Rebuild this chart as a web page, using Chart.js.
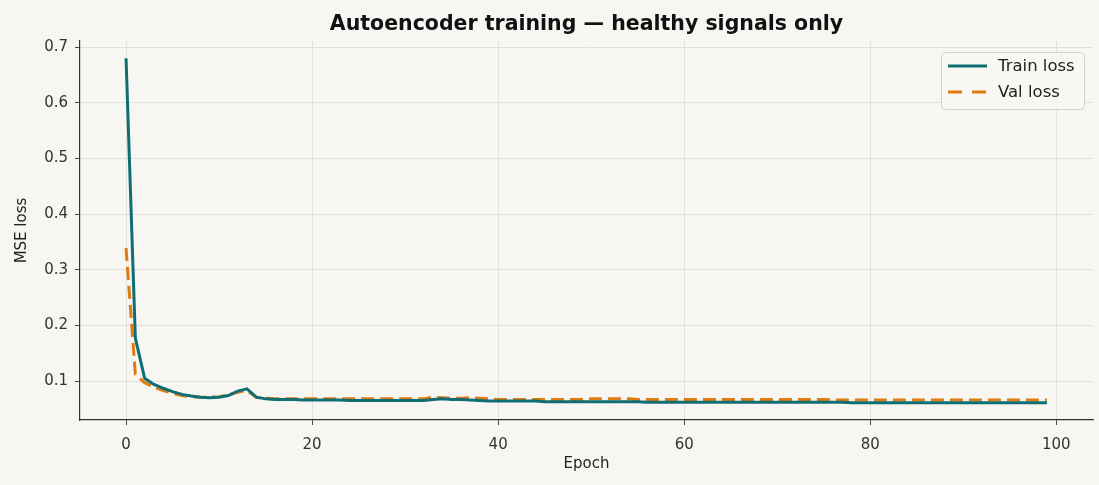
<!DOCTYPE html>
<html>
<head>
<meta charset="utf-8">
<script src="https://cdn.jsdelivr.net/npm/chart.js@4.4.0/dist/chart.umd.min.js"></script>
<style>
  html, body { margin: 0; padding: 0; background: #f7f6f2; }
  #wrap { width: 1099px; height: 485px; }
</style>
</head>
<body>
<div id="wrap"><canvas id="c" width="1099" height="485"></canvas></div>
<script>
const titleText = "Autoencoder training — healthy signals only";
const xLabel = "Epoch";
const yLabel = "MSE loss";
const seriesNames = ["Train loss", "Val loss"];
const xTicks = [0, 20, 40, 60, 80, 100];
const yTicks = [0.1, 0.2, 0.3, 0.4, 0.5, 0.6, 0.7];

const epochs = Array.from({length: 100}, (_, i) => i);

const trainLoss = [
  0.680, 0.177, 0.105, 0.094, 0.087, 0.081, 0.076, 0.073, 0.071, 0.070,
  0.071, 0.074, 0.082, 0.086, 0.071, 0.068, 0.067, 0.067, 0.067, 0.066,
  0.066, 0.066, 0.066, 0.066, 0.065, 0.065, 0.065, 0.065, 0.065, 0.065,
  0.065, 0.065, 0.065, 0.067, 0.068, 0.067, 0.067, 0.066, 0.065, 0.064,
  0.064, 0.064, 0.064, 0.064, 0.064, 0.063, 0.063, 0.063, 0.063, 0.063,
  0.063, 0.063, 0.063, 0.063, 0.063, 0.063, 0.062, 0.062, 0.062, 0.062,
  0.062, 0.062, 0.062, 0.062, 0.062, 0.062, 0.062, 0.062, 0.062, 0.062,
  0.062, 0.062, 0.062, 0.062, 0.062, 0.062, 0.062, 0.062, 0.061, 0.061,
  0.061, 0.061, 0.061, 0.061, 0.061, 0.061, 0.061, 0.061, 0.061, 0.061,
  0.061, 0.061, 0.061, 0.061, 0.061, 0.061, 0.061, 0.061, 0.061, 0.061
];

const valLoss = [
  0.339, 0.112, 0.097, 0.089, 0.083, 0.078, 0.074, 0.072, 0.071, 0.071,
  0.072, 0.075, 0.080, 0.083, 0.071, 0.069, 0.068, 0.068, 0.068, 0.068,
  0.068, 0.068, 0.068, 0.068, 0.068, 0.068, 0.068, 0.068, 0.068, 0.068,
  0.068, 0.068, 0.068, 0.071, 0.070, 0.069, 0.069, 0.070, 0.069, 0.068,
  0.067, 0.067, 0.067, 0.067, 0.067, 0.067, 0.067, 0.067, 0.067, 0.067,
  0.068, 0.068, 0.068, 0.068, 0.068, 0.067, 0.067, 0.067, 0.067, 0.067,
  0.067, 0.067, 0.067, 0.067, 0.067, 0.067, 0.067, 0.067, 0.067, 0.067,
  0.067, 0.067, 0.067, 0.067, 0.067, 0.067, 0.066, 0.066, 0.066, 0.066,
  0.066, 0.066, 0.066, 0.066, 0.066, 0.066, 0.066, 0.066, 0.066, 0.066,
  0.066, 0.066, 0.066, 0.066, 0.066, 0.066, 0.066, 0.066, 0.066, 0.066
];

const FONT = "'DejaVu Sans', sans-serif";
const TEAL = "#0f6e74";
const ORANGE = "#e07b12";

const titlePlugin = {
  id: 'mplTitle',
  afterDraw(chart) {
    const ctx = chart.ctx, a = chart.chartArea;
    ctx.save();
    ctx.font = "bold 20.5px " + FONT;
    ctx.fillStyle = "#111";
    ctx.textAlign = "center";
    ctx.textBaseline = "middle";
    ctx.fillText(titleText, (a.left + a.right) / 2, 25);
    ctx.restore();
  }
};

const legendPlugin = {
  id: 'mplLegend',
  afterDraw(chart) {
    const ctx = chart.ctx, a = chart.chartArea;
    const w = 143, h = 57;
    const x = a.right - 9 - w, y = a.top + 11;
    ctx.save();
    ctx.beginPath();
    ctx.roundRect(x + 0.5, y + 0.5, w, h, 4);
    ctx.fillStyle = "rgba(248,247,243,0.85)";
    ctx.fill();
    ctx.strokeStyle = "#d4d3cf";
    ctx.lineWidth = 1;
    ctx.stroke();
    ctx.font = "16.5px " + FONT;
    ctx.textBaseline = "middle";
    ctx.textAlign = "left";
    chart.data.datasets.forEach((ds, i) => {
      const ly = y + 14 + i * 26;
      ctx.beginPath();
      ctx.setLineDash(ds.borderDash ? [14, 10] : []);
      ctx.strokeStyle = ds.borderColor;
      ctx.lineWidth = ds.borderWidth;
      ctx.moveTo(x + 7, ly);
      ctx.lineTo(x + 46, ly);
      ctx.stroke();
      ctx.setLineDash([]);
      ctx.fillStyle = "#222";
      ctx.fillText(ds.label, x + 57, ly + 1);
    });
    ctx.restore();
  }
};

const ctx = document.getElementById('c').getContext('2d');
new Chart(ctx, {
  type: 'line',
  data: {
    datasets: [
      {
        label: seriesNames[0],
        data: epochs.map((e, i) => ({x: e, y: trainLoss[i]})),
        borderColor: TEAL,
        borderWidth: 3,
        pointRadius: 0,
        tension: 0,
        fill: false
      },
      {
        label: seriesNames[1],
        data: epochs.map((e, i) => ({x: e, y: valLoss[i]})),
        borderColor: ORANGE,
        borderWidth: 3,
        borderDash: [13, 6],
        pointRadius: 0,
        tension: 0,
        fill: false
      }
    ]
  },
  options: {
    responsive: false,
    animation: false,
    layout: { padding: { top: 41, right: 6, left: 0, bottom: 0 } },
    plugins: {
      legend: { display: false },
      title: { display: false },
      tooltip: { enabled: false }
    },
    scales: {
      x: {
        type: 'linear',
        min: -4.95,
        max: 103.95,
        afterBuildTicks(scale) { scale.ticks = xTicks.map(v => ({value: v})); },
        afterFit(scale) { scale.height = 65; },
        ticks: {
          font: { family: FONT, size: 15 },
          color: "#333",
          padding: 11,
          maxRotation: 0,
          callback: v => String(v)
        },
        grid: { color: "#e0ded9", lineWidth: 0.9, tickColor: "#333", tickLength: 5, drawTicks: true },
        border: { color: "#333", width: 1.2 },
        title: { display: true, text: xLabel, font: { family: FONT, size: 15 }, color: "#222", padding: { top: 0, bottom: 12 } }
      },
      y: {
        type: 'linear',
        min: 0.030,
        max: 0.711,
        afterBuildTicks(scale) { scale.ticks = yTicks.map(v => ({value: v})); },
        afterFit(scale) { scale.width = 80; },
        ticks: {
          font: { family: FONT, size: 15 },
          color: "#333",
          padding: 7,
          callback: v => v.toFixed(1)
        },
        grid: { color: "#e0ded9", lineWidth: 0.9, tickColor: "#333", tickLength: 5, drawTicks: true },
        border: { color: "#333", width: 1.2 },
        title: { display: true, text: yLabel, font: { family: FONT, size: 15 }, color: "#222", padding: { top: 13, bottom: 0 } }
      }
    }
  },
  plugins: [titlePlugin, legendPlugin]
});
</script>
</body>
</html>
